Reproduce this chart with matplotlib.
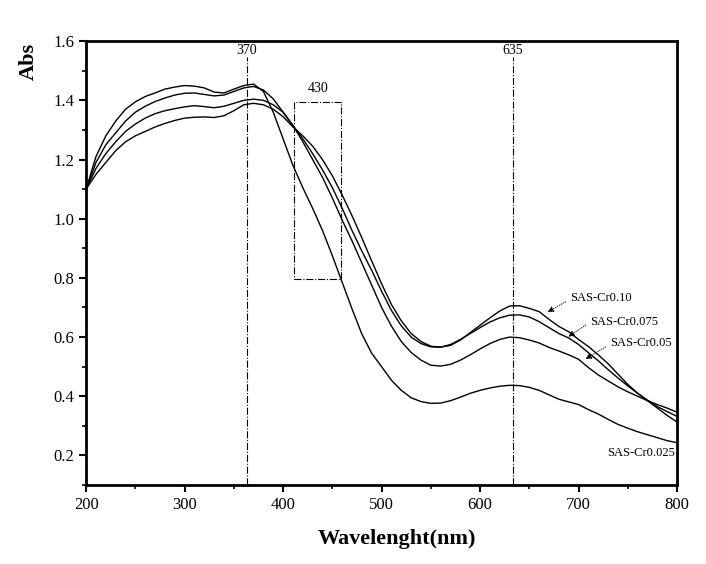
import numpy as np
import matplotlib
matplotlib.use('Agg')
import matplotlib.pyplot as plt
from matplotlib.patches import Rectangle
from matplotlib.ticker import MultipleLocator

plt.rcParams['font.family'] = 'Liberation Serif'

# wavelength grid (nm)
wl = np.arange(200, 801, 10)

# absorbance
cr0025 = [1.10, 1.21, 1.28, 1.33, 1.37, 1.395, 1.413, 1.425, 1.438, 1.445,
          1.450, 1.448, 1.442, 1.428, 1.425, 1.438, 1.450, 1.455, 1.43, 1.36,
          1.27, 1.18, 1.105, 1.035, 0.96, 0.875, 0.785, 0.695, 0.61, 0.545,
          0.50, 0.454, 0.42, 0.395, 0.382, 0.376, 0.377, 0.385, 0.397, 0.41,
          0.42, 0.428, 0.434, 0.437, 0.436, 0.43, 0.42, 0.405, 0.39, 0.381,
          0.372, 0.355, 0.34, 0.322, 0.305, 0.292, 0.28, 0.27, 0.26, 0.25,
          0.243]
cr005 = [1.10, 1.19, 1.25, 1.29, 1.33, 1.36, 1.38, 1.396, 1.408, 1.418,
         1.424, 1.425, 1.42, 1.415, 1.418, 1.43, 1.442, 1.447, 1.435, 1.405,
         1.36, 1.315, 1.26, 1.20, 1.14, 1.07, 0.995, 0.925, 0.85, 0.775,
         0.70, 0.637, 0.585, 0.548, 0.522, 0.505, 0.502, 0.508, 0.522, 0.54,
         0.56, 0.578, 0.592, 0.60, 0.598, 0.59, 0.58, 0.565, 0.553, 0.54,
         0.525, 0.497, 0.472, 0.452, 0.432, 0.415, 0.40, 0.385, 0.372, 0.36,
         0.346]
cr0075 = [1.10, 1.17, 1.22, 1.26, 1.295, 1.32, 1.34, 1.355, 1.365, 1.372,
          1.378, 1.382, 1.379, 1.375, 1.38, 1.39, 1.40, 1.404, 1.40, 1.385,
          1.36, 1.315, 1.27, 1.22, 1.165, 1.105, 1.035, 0.96, 0.89, 0.825,
          0.755, 0.69, 0.638, 0.60, 0.578, 0.567, 0.566, 0.575, 0.592, 0.612,
          0.632, 0.651, 0.665, 0.674, 0.675, 0.668, 0.652, 0.632, 0.612, 0.597,
          0.575, 0.547, 0.52, 0.49, 0.462, 0.435, 0.41, 0.387, 0.365, 0.348,
          0.332]
cr010 = [1.10, 1.15, 1.19, 1.23, 1.26, 1.28, 1.295, 1.31, 1.322, 1.332,
         1.34, 1.343, 1.344, 1.342, 1.348, 1.365, 1.385, 1.39, 1.385, 1.37,
         1.345, 1.31, 1.28, 1.245, 1.20, 1.145, 1.08, 1.01, 0.935, 0.857,
         0.78, 0.71, 0.655, 0.612, 0.585, 0.569, 0.566, 0.572, 0.59, 0.615,
         0.64, 0.665, 0.688, 0.705, 0.706, 0.697, 0.686, 0.66, 0.636, 0.618,
         0.592, 0.568, 0.54, 0.51, 0.475, 0.44, 0.41, 0.385, 0.36, 0.335,
         0.313]

peaks = [363, 633]
peak_labels = ['370', '635']

fig = plt.figure(figsize=(7.06, 5.64), dpi=100)
ax = fig.add_axes([0.122, 0.140, 0.837, 0.787])

for y in [cr0025, cr005, cr0075, cr010]:
    ax.plot(wl, y, color='black', lw=1.0)

for p, lab in zip(peaks, peak_labels):
    ax.plot([p, p], [0.1, 1.545], color='black', lw=0.8, ls='-.')
    ax.text(p, 1.57, lab, ha='center', va='center', fontsize=10)

ax.add_patch(Rectangle((411, 0.795), 48, 0.599, fill=False,
                       ec='black', lw=0.8, ls='-.'))
ax.text(435.5, 1.44, '430', ha='center', va='center', fontsize=10)

arrows = [('SAS-Cr0.10', (666, 0.680), (689.3, 0.724), (691.4, 0.731)),
          ('SAS-Cr0.075', (687.3, 0.596), (709.6, 0.646), (711.7, 0.650)),
          ('SAS-Cr0.05', (704.6, 0.521), (730, 0.572), (732, 0.579))]
for lab, head, tail, tpos in arrows:
    ax.annotate('', xy=head, xytext=tail,
                arrowprops=dict(arrowstyle='-|>', color='black', lw=0.6,
                                ls=':', mutation_scale=9))
    ax.text(tpos[0], tpos[1], lab, ha='left', va='center', fontsize=9)
ax.text(729, 0.207, 'SAS-Cr0.025', ha='left', va='center', fontsize=9)

ax.set_xlim(200, 800)
ax.set_ylim(0.1, 1.6)
ax.xaxis.set_major_locator(MultipleLocator(100))
ax.xaxis.set_minor_locator(MultipleLocator(50))
ax.yaxis.set_minor_locator(MultipleLocator(0.1))
ax.set_yticks(np.arange(0.2, 1.61, 0.2))
ax.set_yticklabels(['%.1f' % v for v in np.arange(0.2, 1.61, 0.2)])
ax.tick_params(which='major', direction='out', length=5, width=1.5,
               labelsize=12)
ax.tick_params(which='minor', direction='out', length=3, width=1.2)
for s in ax.spines.values():
    s.set_linewidth(2)

ax.set_xlabel('Wavelenght(nm)', fontsize=16, fontweight='bold')
ax.xaxis.set_label_coords(0.526, -0.1)
ax.set_ylabel('Abs', fontsize=16, fontweight='bold')
ax.yaxis.set_label_coords(-0.08, 0.955)

fig.savefig('out.png', dpi=100)
